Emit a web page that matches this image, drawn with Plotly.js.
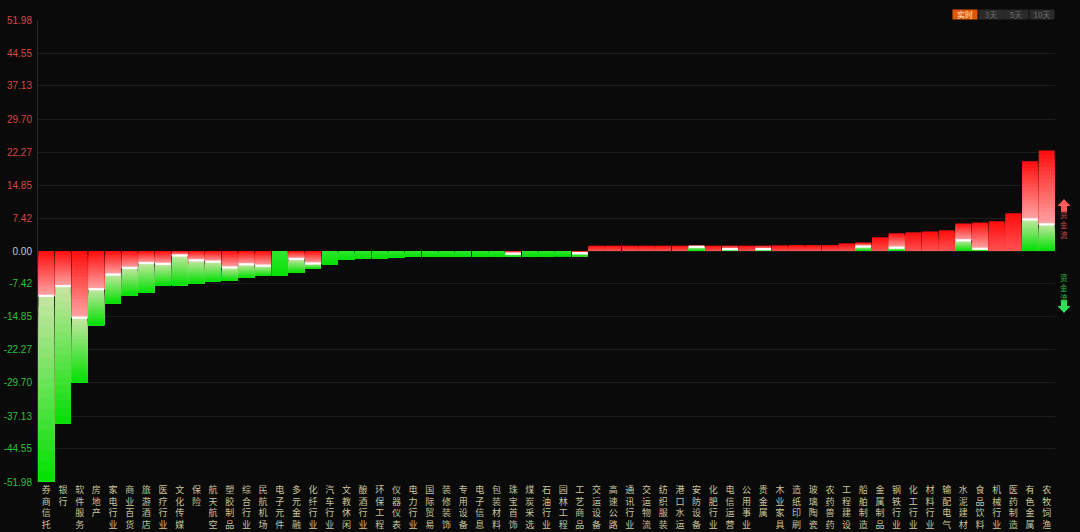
<!DOCTYPE html>
<html><head><meta charset="utf-8">
<script src="https://cdn.plot.ly/plotly-3.0.1.min.js"></script>
<style>html,body{margin:0;padding:0;background:#0a0a0a;}#chart{width:1080px;height:532px;}</style>
</head><body><div id="chart"></div>
<script>
const categories = ["券商信托","银行","软件服务","房地产","家电行业","商业百货","旅游酒店","医疗行业","文化传媒","保险",
"航天航空","塑胶制品","综合行业","民航机场","电子元件","多元金融","化纤行业","汽车行业","文教休闲","酿酒行业",
"环保工程","仪器仪表","电力行业","国际贸易","装修装饰","专用设备","电子信息","包装材料","珠宝首饰","煤炭采选",
"石油行业","园林工程","工艺商品","交运设备","高速公路","通讯行业","交运物流","纺织服装","港口水运","安防设备",
"化肥行业","电信运营","公用事业","贵金属","木业家具","造纸印刷","玻璃陶瓷","农药兽药","工程建设","船舶制造",
"金属制品","钢铁行业","化工行业","材料行业","输配电气","水泥建材","食品饮料","机械行业","医药制造","有色金属","农牧饲渔"];
const netValues = [-51.9,-38.8,-29.6,-16.7,-11.8,-10.0,-9.4,-7.8,-7.7,-7.3,
-6.9,-6.7,-6.0,-5.6,-5.5,-4.9,-4.0,-3.0,-2.0,-1.8,
-1.65,-1.5,-1.35,-1.3,-1.3,-1.3,-1.25,-1.2,-1.2,-1.2,
-1.2,-1.15,-1.15,1.2,1.2,1.2,1.2,1.2,1.2,1.2,
1.2,1.2,1.2,1.2,1.25,1.3,1.3,1.3,1.7,1.9,
3.1,4.0,4.2,4.4,4.65,6.2,6.4,6.7,8.5,20.2,22.6];
const splitValues = [-10.1,-7.9,-15.0,-8.6,-5.3,-3.8,-2.7,-2.9,-1.0,-2.1,
-2.4,-3.7,-3.0,-3.3,0,-1.8,-2.8,0,0,0,
0,0,0,0,0,0,0,0,-0.6,0,
0,0,-0.5,0,0,0,0,0,0,0.95,
0,0.4,0,0.4,0,0,0,0,0,1.0,
0,0.75,0,0,0,2.4,0.5,0,0,7.1,6.0];
const yTickValues = [51.98,44.55,37.13,29.70,22.27,14.85,7.42,0,-7.42,-14.85,-22.27,-29.70,-37.13,-44.55,-51.98];
const yTickLabels = ["51.98","44.55","37.13","29.70","22.27","14.85","7.42","0.00","-7.42","-14.85","-22.27","-29.70","-37.13","-44.55","-51.98"];
const periodButtons = ["实时","3天","5天","10天"];
const legendLabels = ["资金流","资金流"];

function hex2rgb(h){return [parseInt(h.substr(1,2),16),parseInt(h.substr(3,2),16),parseInt(h.substr(5,2),16)];}
function lerp(a,b,t){const A=hex2rgb(a),B=hex2rgb(b);return 'rgb('+A.map((v,i)=>Math.round(v+(B[i]-v)*t)).join(',')+')';}

const n = categories.length;
const topV = netValues.map(v=>Math.max(v,0));
const botV = netValues.map(v=>Math.min(v,0));
const N = 18;
const traces = [];
for(let k=0;k<N;k++){
  const base=[],len=[],col=[];
  for(let i=0;i<n;i++){
    const s=splitValues[i], rl=topV[i]-s;
    const hasGreen = s>botV[i]+1e-9;
    const st = topV[i]-rl*k/N;
    base.push(s); len.push(st-s);
    col.push(lerp('#ff0c0c', hasGreen?'#ffa6a6':'#ff5252', (k+0.5)/N));
  }
  traces.push({type:'bar',x:categories,y:len,base:base,marker:{color:col,line:{width:0}},hoverinfo:'skip',showlegend:false});
}
for(let k=0;k<N;k++){
  const base=[],len=[],col=[];
  for(let i=0;i<n;i++){
    const s=splitValues[i], gl=s-botV[i];
    const hasRed = topV[i]>s+1e-9;
    const st = s-gl*k/N;
    base.push(botV[i]); len.push(st-botV[i]);
    col.push(hasRed? lerp('#c8e6a4','#00e000',(k+0.5)/N) : lerp('#30e830','#06e006',(k+0.5)/N));
  }
  traces.push({type:'bar',x:categories,y:len,base:base,marker:{color:col,line:{width:0}},hoverinfo:'skip',showlegend:false});
}
{
  const base=[],len=[];
  for(let i=0;i<n;i++){
    const s=splitValues[i];
    const both = s<topV[i]-1e-9 && s>botV[i]+1e-9;
    base.push(both? s-0.25:0); len.push(both?0.5:0);
  }
  traces.push({type:'bar',x:categories,y:len,base:base,marker:{color:'#ffffff',line:{width:0}},hoverinfo:'skip',showlegend:false});
}

const L=38,R=1055,T=20,B=482;
const px=x=>(x-L)/(R-L), py=y=>(B-y)/(B-T);
const btnX=[964.5,990.5,1016,1041.5];
const annotations = periodButtons.map((t,i)=>({
  xref:'paper',yref:'paper',x:px(btnX[i]),y:py(14.5),text:t,showarrow:false,
  font:{size:8,color:i===0?'#ffe6cc':'#707070',family:'Noto Sans CJK SC'},
  bgcolor:i===0?'#e05a06':'#2a2a2a',width:24,height:9,borderpad:0,xanchor:'center',yanchor:'middle'
}));
annotations.push({xref:'paper',yref:'paper',x:px(1064),y:py(224),text:legendLabels[0].split('').join('<br>'),showarrow:false,
  font:{size:7.5,color:'#c84848',family:'Noto Sans CJK SC'},xanchor:'center',yanchor:'middle'});
annotations.push({xref:'paper',yref:'paper',x:px(1064),y:py(287),text:legendLabels[1].split('').join('<br>'),showarrow:false,
  font:{size:7.5,color:'#2cb83c',family:'Noto Sans CJK SC'},xanchor:'center',yanchor:'middle'});
function pathOf(pts){return 'M'+pts.map(p=>px(p[0])+','+py(p[1])).join(' L')+' Z';}
const shapes=[
  {type:'path',xref:'paper',yref:'paper',path:pathOf([[1064,199],[1070.5,206],[1067,206],[1067,212],[1061,212],[1061,206],[1057.5,206]]),fillcolor:'#ff5a5a',line:{width:0}},
  {type:'path',xref:'paper',yref:'paper',path:pathOf([[1064,313],[1070.5,306],[1067,306],[1067,300],[1061,300],[1061,306],[1057.5,306]]),fillcolor:'#2ee05a',line:{width:0}}
];

const tickText = yTickLabels.map((t,i)=>{
  const v=yTickValues[i];
  const c = v>0?'#d64646':(v<0?'#2fbf3f':'#c8c8c8');
  return '<span style="color:'+c+'">'+t+'</span>';
});

const layout = {
  width:1080,height:532,
  paper_bgcolor:'#0a0a0a',plot_bgcolor:'#0a0a0a',
  margin:{l:L,r:1080-R,t:T,b:532-B},
  barmode:'overlay',bargap:0.06,
  showlegend:false,
  xaxis:{type:'category',tickvals:categories,ticktext:categories.map(c=>c.split('').join('<br>')),
    tickangle:0,showgrid:false,zeroline:false,showline:false,ticks:'',ticklabelstandoff:1,
    tickfont:{size:9,color:'#c9c59b',family:'Noto Sans CJK SC'},range:[-0.5,n-0.5],fixedrange:true},
  yaxis:{range:[-51.98,51.98],tickvals:yTickValues,ticktext:tickText,showgrid:true,gridcolor:'#1d1d1d',gridwidth:1,
    zeroline:false,showline:true,linecolor:'#2c2c2c',linewidth:1,ticks:'',ticklabelstandoff:3,
    tickfont:{size:10,color:'#c8c8c8',family:'Liberation Sans'},fixedrange:true},
  annotations:annotations,shapes:shapes
};
Plotly.newPlot('chart',traces,layout,{displayModeBar:false,staticPlot:true});
</script></body></html>
